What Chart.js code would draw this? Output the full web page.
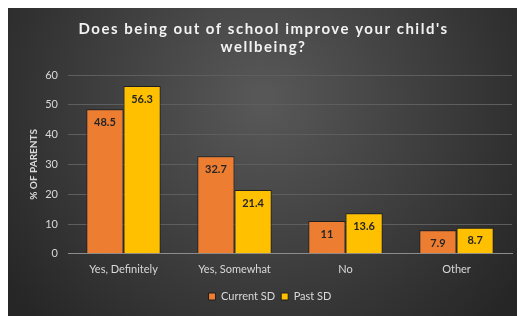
<!DOCTYPE html>
<html>
<head>
<meta charset="utf-8">
<script src="https://cdn.jsdelivr.net/npm/chart.js@4"></script>
<style>
  html, body { margin: 0; padding: 0; background: #ffffff; }
  #wrap { position: absolute; left: 8px; top: 8px; width: 509px; height: 308px; }
</style>
</head>
<body>
<div id="wrap"><canvas id="wellbeingChart"></canvas></div>
<script>
// chart data
const categories = ['Yes, Definitely', 'Yes, Somewhat', 'No', 'Other'];
const currentSD = [48.5, 32.7, 11, 7.9];
const pastSD = [56.3, 21.4, 13.6, 8.7];
const seriesNames = ['Current SD', 'Past SD'];
const yTicks = [0, 10, 20, 30, 40, 50, 60];
const titleLines = ["Does being out of school improve your child's", 'wellbeing?'];

const FONT = 'Lato, "Open Sans", sans-serif';

// dark radial background like the office theme
const backgroundPlugin = {
    id: 'darkBackground',
    beforeDraw(chart) {
        const ctx = chart.ctx;
        const w = chart.width, h = chart.height;
        const g = ctx.createRadialGradient(w * 0.5, h * 0.3, 10, w * 0.5, h * 0.3, w * 0.62);
        g.addColorStop(0, '#575757');
        g.addColorStop(1, '#262626');
        ctx.save();
        ctx.fillStyle = g;
        ctx.fillRect(0, 0, w, h);
        ctx.restore();
    }
};

// spaced-out title (chart.js title has no letter spacing option)
const spacedTitle = {
    id: 'spacedTitle',
    afterDraw(chart) {
        const ctx = chart.ctx;
        ctx.save();
        ctx.font = 'bold 15px ' + FONT;
        ctx.letterSpacing = '1.5px';
        ctx.fillStyle = '#f2f2f2';
        ctx.textAlign = 'center';
        ctx.textBaseline = 'middle';
        titleLines.forEach((line, i) => {
            ctx.fillText(line, chart.width / 2 + 1, 21 + i * 18);
        });
        ctx.restore();
    }
};

// value labels inside the top of each bar
const valueLabels = {
    id: 'valueLabels',
    afterDatasetsDraw(chart) {
        const ctx = chart.ctx;
        ctx.save();
        ctx.font = 'bold 11px ' + FONT;
        ctx.fillStyle = '#262626';
        ctx.textAlign = 'center';
        ctx.textBaseline = 'middle';
        chart.data.datasets.forEach((ds, i) => {
            chart.getDatasetMeta(i).data.forEach((bar, j) => {
                ctx.fillText(String(ds.data[j]), bar.x, bar.y + 13);
            });
        });
        ctx.restore();
    }
};

new Chart(document.getElementById('wellbeingChart'), {
    type: 'bar',
    data: {
        labels: categories,
        datasets: [
            {
                label: seriesNames[0],
                data: currentSD,
                backgroundColor: '#ED7D31',
                borderColor: '#1e1e1e',
                borderWidth: 1,
                borderSkipped: 'bottom'
            },
            {
                label: seriesNames[1],
                data: pastSD,
                backgroundColor: '#FFC000',
                borderColor: '#1e1e1e',
                borderWidth: 1,
                borderSkipped: 'bottom'
            }
        ]
    },
    options: {
        responsive: true,
        maintainAspectRatio: false,
        animation: false,
        datasets: {
            bar: { categoryPercentage: 0.67, barPercentage: 1.0 }
        },
        layout: { padding: { left: 20, right: 5, top: 67, bottom: 4 } },
        plugins: {
            title: { display: false },
            legend: {
                position: 'bottom',
                labels: {
                    color: '#d9d9d9',
                    font: { family: FONT, size: 11 },
                    boxWidth: 7,
                    boxHeight: 7,
                    padding: 6
                }
            },
            tooltip: { enabled: false }
        },
        scales: {
            x: {
                grid: { display: false, drawTicks: false },
                border: { color: '#8c8c8c', width: 1 },
                ticks: { color: '#d9d9d9', font: { family: FONT, size: 11 }, padding: 9 }
            },
            y: {
                min: 0,
                max: 60,
                afterBuildTicks: (scale) => { scale.ticks = yTicks.map(v => ({ value: v })); },
                afterFit: (scale) => { scale.width = 40; },
                grid: { color: '#5e5e5e', drawTicks: false },
                border: { display: false },
                ticks: { color: '#d9d9d9', font: { family: FONT, size: 11 }, padding: 10 },
                title: {
                    display: true,
                    text: '% OF PARENTS',
                    color: '#d9d9d9',
                    font: { family: FONT, size: 10, weight: 'bold' },
                    padding: 0
                }
            }
        }
    },
    plugins: [backgroundPlugin, spacedTitle, valueLabels]
});
</script>
</body>
</html>
